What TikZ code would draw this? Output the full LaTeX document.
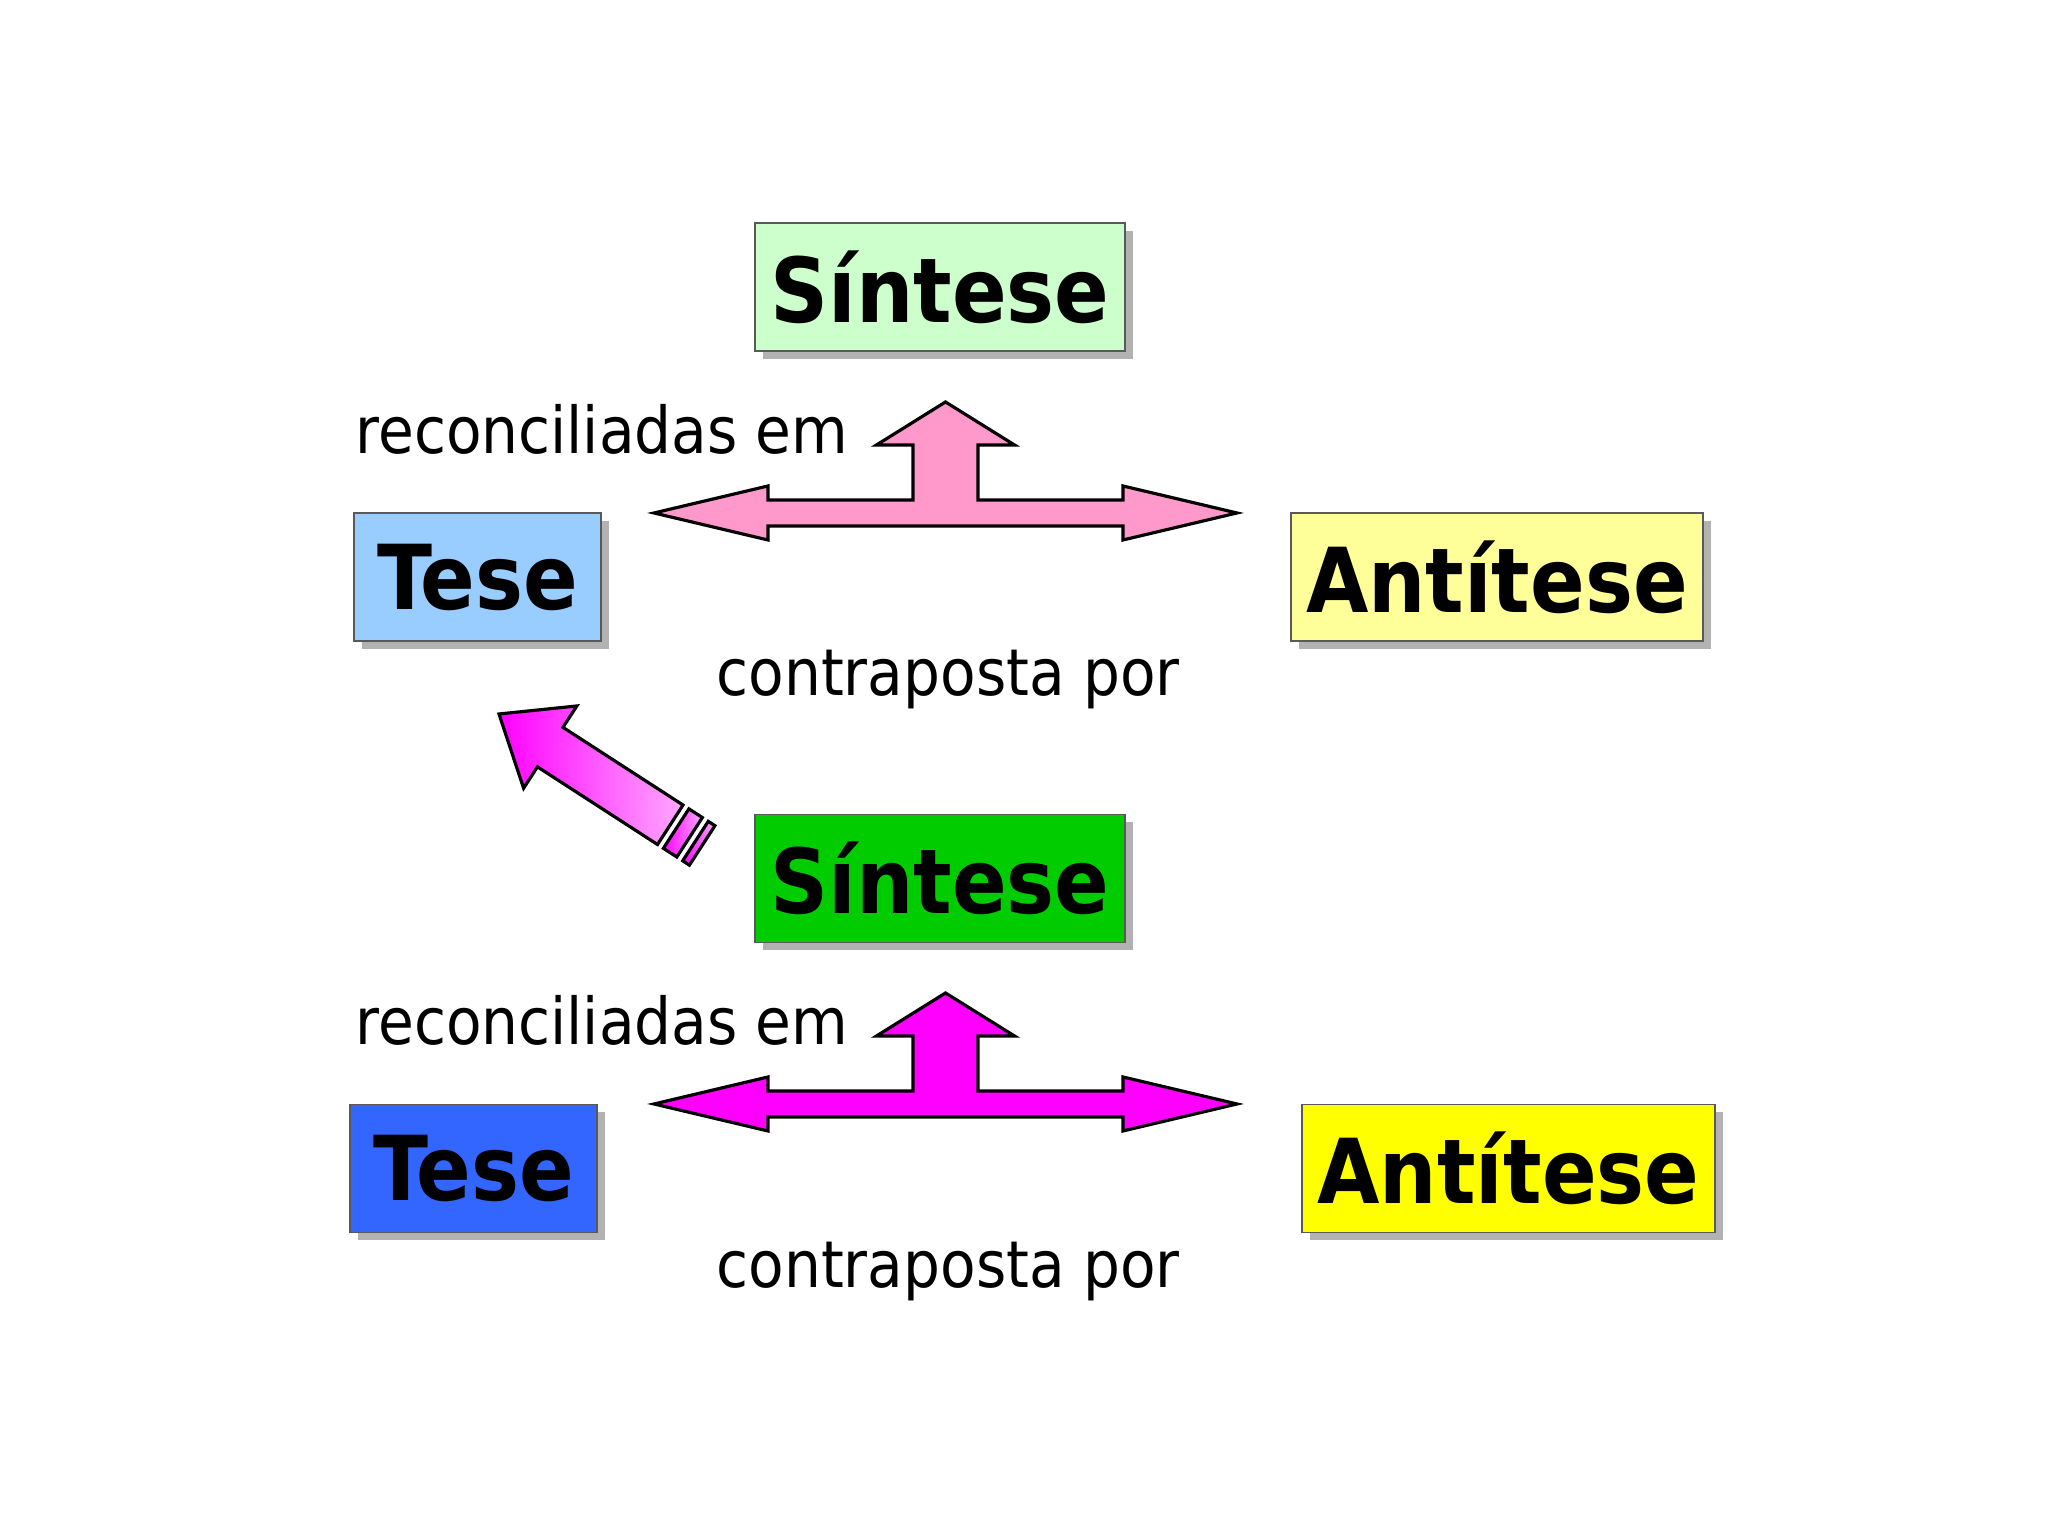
\documentclass[tikz,border=0pt]{standalone}
\usepackage{fontspec}
\setmainfont{DejaVu Sans Condensed}
\usetikzlibrary{shadows}

\definecolor{teseA}{HTML}{99CCFF}
\definecolor{antiA}{HTML}{FFFF99}
\definecolor{sinA}{HTML}{CCFFCC}
\definecolor{teseB}{HTML}{3366FF}
\definecolor{antiB}{HTML}{FFFF00}
\definecolor{sinB}{HTML}{00CC00}
\definecolor{rosa}{HTML}{FF99CC}
\definecolor{mag}{HTML}{FF00FF}
\definecolor{magl}{HTML}{FFA8FF}

\begin{document}
\begin{tikzpicture}
  [box/.style={draw=black!65, line width=0.5pt, minimum height=1.28cm,
     inner sep=0pt, font=\fontsize{25.5}{30}\selectfont\bfseries,
     drop shadow={shadow xshift=0.08cm, shadow yshift=-0.08cm,
       fill=black!30, opacity=1}},
  lbl/.style={anchor=base west, inner sep=0pt, font=\fontsize{18.4}{22}\selectfont},
  tarrow/.style={draw=black, line width=0.9pt, line join=miter},
  diag/.style={draw=black, line width=0.9pt, left color=mag, right color=magl}]

  \useasboundingbox (0,0) rectangle (20.48,15.36);

  % top row
  \node[box, fill=sinA, minimum width=3.70cm] (sin1) at (9.40,12.49) {Síntese};
  \node[box, fill=teseA, minimum width=2.47cm] (tese1) at (4.775,9.59) {Tese};
  \node[box, fill=antiA, minimum width=4.12cm] (anti1) at (14.97,9.59) {Antítese};

  \node[lbl] (rec1) at (3.55,10.82) {reconciliadas em};
  \node[lbl] (con1) at (7.16,8.40) {contraposta por};

  \begin{scope}[shift={(9.455,10.23)}]
    \draw[tarrow, fill=rosa] (-2.915,0) -- (-1.775,0.27) -- (-1.775,0.13)
      -- (-0.325,0.13) -- (-0.325,0.68) -- (-0.69,0.68) -- (0,1.11)
      -- (0.69,0.68) -- (0.325,0.68) -- (0.325,0.13) -- (1.775,0.13)
      -- (1.775,0.27) -- (2.915,0) -- (1.775,-0.27) -- (1.775,-0.13)
      -- (-1.775,-0.13) -- (-1.775,-0.27) -- cycle;
  \end{scope}

  % bottom row
  \node[box, fill=sinB, minimum width=3.70cm] (sin2) at (9.40,6.575) {Síntese};
  \node[box, fill=teseB, minimum width=2.47cm] (tese2) at (4.735,3.675) {Tese};
  \node[box, fill=antiB, minimum width=4.13cm] (anti2) at (15.085,3.675) {Antítese};

  \node[lbl] (rec2) at (3.55,4.91) {reconciliadas em};
  \node[lbl] (con2) at (7.16,2.48) {contraposta por};

  \begin{scope}[shift={(9.455,4.32)}]
    \draw[tarrow, fill=mag] (-2.915,0) -- (-1.775,0.27) -- (-1.775,0.13)
      -- (-0.325,0.13) -- (-0.325,0.68) -- (-0.69,0.68) -- (0,1.11)
      -- (0.69,0.68) -- (0.325,0.68) -- (0.325,0.13) -- (1.775,0.13)
      -- (1.775,0.27) -- (2.915,0) -- (1.775,-0.27) -- (1.775,-0.13)
      -- (-1.775,-0.13) -- (-1.775,-0.27) -- cycle;
  \end{scope}

  % diagonal arrow, back to the top
  \begin{scope}[shift={(4.99,8.22)}, rotate=-32.9]
    \draw[diag] (0,0) -- (0.61,0.49) -- (0.61,0.235) -- (2.04,0.235)
      -- (2.04,-0.235) -- (0.61,-0.235) -- (0.61,-0.49) -- cycle;
    \draw[diag] (2.11,0.235) rectangle (2.27,-0.235);
    \draw[diag] (2.34,0.235) rectangle (2.42,-0.235);
  \end{scope}

\end{tikzpicture}
\end{document}
